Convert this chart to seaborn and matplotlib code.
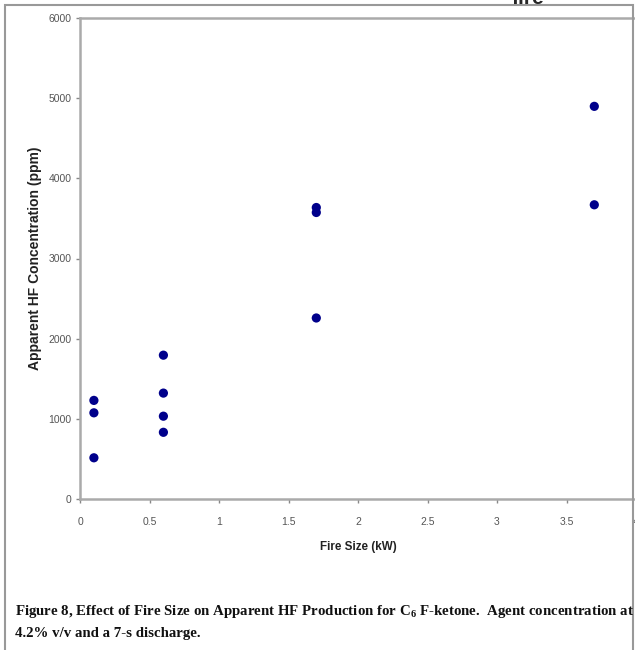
import matplotlib
matplotlib.use("Agg")
import matplotlib.pyplot as plt
import pandas as pd
import seaborn as sns
from matplotlib.patches import Rectangle

# Data
fire_size = [0.1, 0.1, 0.1, 0.6, 0.6, 0.6, 0.6, 1.7, 1.7, 1.7, 3.7, 3.7]
hf_ppm = [1230, 1075, 514, 1794, 1321, 1033, 832, 3636, 3574, 2258, 4898, 3670]
x_ticks = [0, 0.5, 1, 1.5, 2, 2.5, 3, 3.5, 4]
x_labels = ["0", "0.5", "1", "1.5", "2", "2.5", "3", "3.5", "4"]
y_ticks = [0, 1000, 2000, 3000, 4000, 5000, 6000]

df = pd.DataFrame({"fire_size": fire_size, "hf": hf_ppm})

sns.set_style("white")
plt.rcParams["font.family"] = ["Liberation Sans", "DejaVu Sans"]
plt.rcParams["mathtext.fontset"] = "custom"
plt.rcParams["mathtext.rm"] = "Liberation Serif:bold"

fig = plt.figure(figsize=(6.35, 6.5), dpi=100)
ax = fig.add_axes([80 / 635, 1 - 499 / 650, 556 / 635, 481 / 650])

sns.scatterplot(data=df, x="fire_size", y="hf", ax=ax, color="#00008b",
                s=44, edgecolor="none", legend=False)

ax.set_xlim(0, 4)
ax.set_ylim(0, 6000)
ax.set_xticks(x_ticks)
ax.set_xticklabels(x_labels)
ax.set_yticks(y_ticks)
ax.tick_params(axis="both", labelsize=7.5, labelcolor="#555555", color="#888888",
               length=3, width=1, direction="out")
ax.tick_params(axis="x", pad=10)
ax.tick_params(axis="y", pad=3)
for side in ["left", "bottom", "top"]:
    ax.spines[side].set_color("#aaaaaa")
    ax.spines[side].set_linewidth(1.8)
ax.spines["right"].set_visible(False)
ax.tick_params(left=True, bottom=True)

ax.set_xlabel("Fire Size (kW)", fontsize=8.4, fontweight="bold", color="#222222", labelpad=10)
ax.set_ylabel("Apparent HF Concentration (ppm)", fontsize=10, fontweight="bold",
              color="#222222", labelpad=5)

# outer frame of the figure
fig.patches.append(Rectangle((5 / 635, -0.01), 628 / 635, 1 - 5 / 650 + 0.01,
                             transform=fig.transFigure, fill=False,
                             edgecolor="#999999", linewidth=1.5))

# clipped heading text at top right
fig.text(0.805, 1.002, "fire", fontsize=15, fontweight="bold", va="center", ha="left")

cap = dict(family=["Liberation Serif", "DejaVu Serif"], fontweight="bold", fontsize=10.7,
           color="#111111", ha="left", va="center")
fig.text(15 / 635, 1 - 612 / 650,
         "Figure 8, Effect of Fire Size on Apparent HF Production for $\\mathregular{C_6}$ "
         "F-ketone.  Agent concentration at", **cap)
fig.text(15 / 635, 1 - 633 / 650, "4.2% v/v and a 7-s discharge.", **cap)

fig.savefig("out.png", dpi=100)
